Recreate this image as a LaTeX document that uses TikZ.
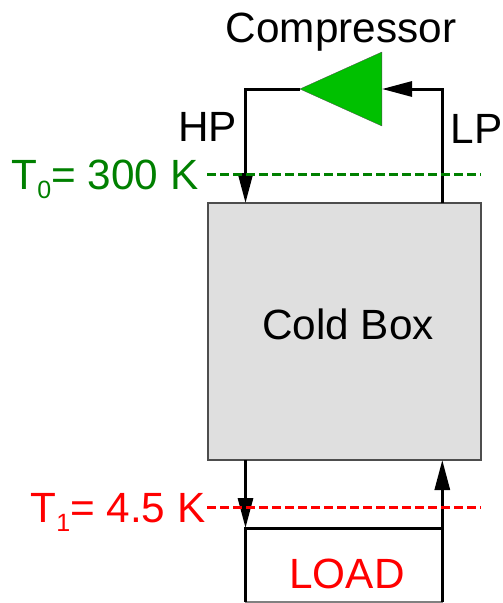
\documentclass[tikz,border=0pt]{standalone}
\usepackage{fontspec}
\setmainfont{Liberation Sans}
\usepackage{xcolor}
\usetikzlibrary{arrows.meta,positioning,shapes.geometric}
\definecolor{HeadGreen}{RGB}{0,128,0}
\definecolor{CompGreen}{RGB}{0,192,0}
\definecolor{BoxGray}{RGB}{223,223,223}
\definecolor{EdgeGray}{RGB}{77,77,77}
\newcommand{\tsub}[1]{\raisebox{-9pt}{\fontsize{25}{25}\selectfont #1}}
\tikzset{
  lbl/.style={inner sep=0pt,anchor=base,font=\fontsize{42.3}{48}\selectfont},
  coldbox/.style={draw=EdgeGray,fill=BoxGray,line width=1.2pt,inner sep=0pt,
                  minimum width=273pt,minimum height=257pt},
  loadbox/.style={draw=gray,line width=1.5pt,inner sep=0pt,
                  minimum width=196.5pt,minimum height=74pt},
  comp/.style={isosceles triangle,isosceles triangle stretches,shape border rotate=180,
               fill=CompGreen,draw=EdgeGray,line width=0.3pt,inner sep=0pt,
               minimum width=74pt,minimum height=82pt},
  pipe/.style={line width=3pt,black},
  flow/.style={pipe,-{Triangle[length=30pt,width=15pt]}},
  level/.style={line width=3pt,dash pattern=on 9pt off 4pt},
}
\begin{document}
\begin{tikzpicture}[x=1pt,y=-1pt]
  \useasboundingbox (0,0) rectangle (503,603);
  \node[coldbox] (cb) at (344.5,331.5) {};
  \node[loadbox] (load) at (344,565) {};
  \node[comp,anchor=apex] (cp) at (299.5,89) {};
  % pipe ends
  \coordinate (hpin) at (245.5,203);
  \coordinate (lpout) at (442.3,203);
  \coordinate (hpout) at (245.5,460);
  \coordinate (lpin) at (442.3,460);
  \coordinate (la) at (245.5,528);
  \coordinate (lb) at (442.3,528);
  \coordinate (lc) at (245.5,602);
  \coordinate (ld) at (442.3,602);
  \coordinate (cpin) at (382,89);
  \coordinate (g0) at (207,174);
  \coordinate (g1) at (481,174);
  \coordinate (r0) at (207,507);
  \coordinate (r1) at (481,507);
  \draw[flow] (cp.apex) -| (hpin);
  \draw[flow] (lpout) |- (cpin);
  \draw[flow] (hpout) -- (la);
  \draw[flow] (lb) -- (lpin);
  \draw[pipe] (lc) -- (la) -- (lb) -- (ld);
  \draw[level,HeadGreen] (g0) -- (g1);
  \draw[level,red] (r0) -- (r1);
  \node[lbl] (cptxt) at (341,42) {Compressor};
  \node[lbl] (hp) at (207.5,141) {HP};
  \node[lbl] (lp) at (476.5,143) {LP};
  \node[lbl] (cbtxt) at (348,339) {Cold Box};
  \node[lbl,text=red] (loadtxt) at (347,588) {LOAD};
  \node[lbl,text=HeadGreen] (t0) at (105,189) {T\tsub{0}= 300 K};
  \node[lbl,text=red] (t1) at (118,522) {T\tsub{1}= 4.5 K};
\end{tikzpicture}
\end{document}
